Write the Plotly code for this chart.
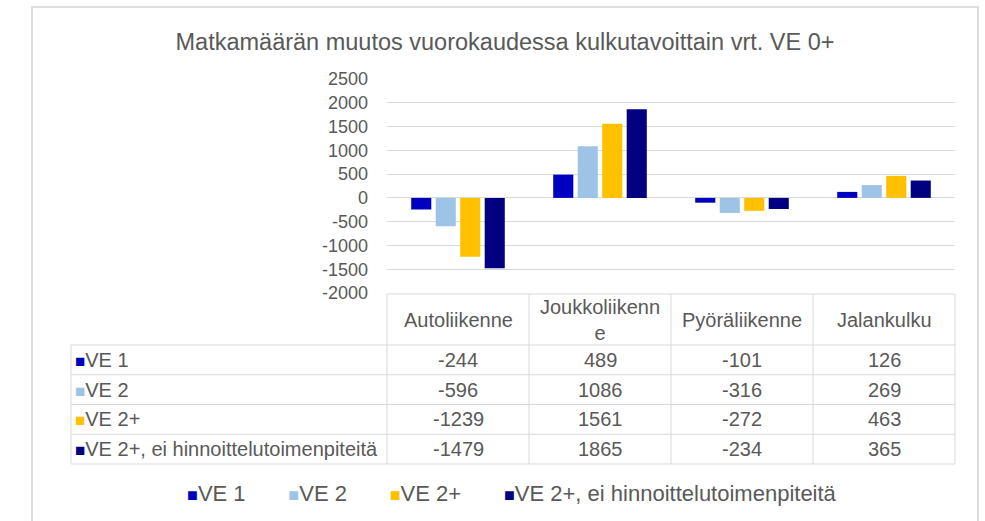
import plotly.graph_objects as go

# ---------------- data ----------------
categories = ["Autoliikenne", "Joukkoliikenne", "Pyöräliikenne", "Jalankulku"]
series_names = ["VE 1", "VE 2", "VE 2+", "VE 2+, ei hinnoittelutoimenpiteitä"]
ve1 = [-244, 489, -101, 126]
ve2 = [-596, 1086, -316, 269]
ve2_plus = [-1239, 1561, -272, 463]
ve2_plus_ei = [-1479, 1865, -234, 365]
series_values = [ve1, ve2, ve2_plus, ve2_plus_ei]
colors = ["#0000C0", "#9DC3E6", "#FFC000", "#000080"]
y_ticks = [2500, 2000, 1500, 1000, 500, 0, -500, -1000, -1500, -2000]
title_text = "Matkamäärän muutos vuorokaudessa kulkutavoittain vrt. VE 0+"

# ---------------- layout constants (pixels) ----------------
W, H = 985, 521
PL, PR, PT, PB = 387, 955, 79, 293          # plot area edges
TEXT = "#595959"
GRID = "#D9D9D9"
FONT = "Arial, Liberation Sans, sans-serif"


def px(X):
    return (X - PL) / (PR - PL)


def py(Y):
    return (PB - Y) / (PB - PT)


fig = go.Figure()
for name, vals, col in zip(series_names, series_values, colors):
    fig.add_trace(go.Bar(x=categories, y=vals, name=name, marker_color=col,
                         marker_line_width=0, showlegend=False))

# ---------------- data table (drawn under the axis) ----------------
label_left = 71
header_top, header_h, row_h = 294, 51, 29.75
row_edges = [header_top + header_h + i * row_h for i in range(len(series_names) + 1)]
shapes = []
line = dict(color=GRID, width=1)
shapes.append(dict(type="line", xref="paper", yref="paper", x0=0, x1=1,
                   y0=py(header_top), y1=py(header_top), line=line))
for ye in row_edges:
    shapes.append(dict(type="line", xref="paper", yref="paper", x0=px(label_left), x1=1,
                       y0=py(ye), y1=py(ye), line=line))
shapes.append(dict(type="line", xref="paper", yref="paper", x0=px(label_left), x1=px(label_left),
                   y0=py(row_edges[0]), y1=py(row_edges[-1]), line=line))
ncat = len(categories)
for i in range(ncat + 1):
    xe = i / ncat
    shapes.append(dict(type="line", xref="paper", yref="paper", x0=xe, x1=xe,
                       y0=py(header_top), y1=py(row_edges[-1]), line=line))
# outer chart border
shapes.append(dict(type="rect", xref="paper", yref="paper", x0=px(32), x1=px(978),
                   y0=py(7), y1=py(560), line=dict(color="#DEDEDE", width=2), layer="below"))

annotations = []
TFS = 20


def wrap(s, n=13):
    return s if len(s) <= n else s[:n] + "<br>" + s[n:]


for cat in categories:
    annotations.append(dict(x=cat, xref="x", y=py(header_top + header_h / 2), yref="paper",
                            text=wrap(cat), showarrow=False, xanchor="center", yanchor="middle",
                            font=dict(size=TFS, color=TEXT, family=FONT)))
for r, (name, vals, col) in enumerate(zip(series_names, series_values, colors)):
    yc = py(row_edges[r] + row_h / 2)
    annotations.append(dict(x=px(label_left + 2), xref="paper", y=yc, yref="paper",
                            text=f"<span style='color:{col};font-size:17px'>■</span>{name}",
                            showarrow=False, xanchor="left", yanchor="middle",
                            font=dict(size=TFS, color=TEXT, family=FONT)))
    for cat, v in zip(categories, vals):
        annotations.append(dict(x=cat, xref="x", y=yc, yref="paper", text=str(v),
                                showarrow=False, xanchor="center", yanchor="middle",
                                font=dict(size=TFS, color=TEXT, family=FONT)))

# legend drawn as text
gap = "&nbsp;" * 7
legend_text = gap.join(f"<span style='color:{c};font-size:18px'>■</span>{n}"
                       for n, c in zip(series_names, colors))
annotations.append(dict(x=px(512), xref="paper", y=py(493), yref="paper", text=legend_text,
                        showarrow=False, xanchor="center", yanchor="middle",
                        font=dict(size=22, color=TEXT, family=FONT)))

fig.update_layout(
    width=W, height=H,
    margin=dict(l=PL, r=W - PR, t=PT, b=H - PB, pad=0),
    paper_bgcolor="white", plot_bgcolor="white",
    title=dict(text=title_text, x=505 / W, xref="container", xanchor="center",
               y=1 - 42 / H, yref="container", yanchor="middle",
               font=dict(size=23.5, color=TEXT, family=FONT)),
    barmode="group", bargap=0.31, bargroupgap=0.18,
    font=dict(family=FONT, color=TEXT),
    xaxis=dict(range=[-0.5, ncat - 0.5], showticklabels=False, showgrid=False,
               zeroline=False, showline=False, ticks=""),
    yaxis=dict(range=[-2000, 2500], tickvals=y_ticks, ticktext=[str(v) for v in y_ticks],
               showgrid=True, gridcolor=GRID,
               gridwidth=1, zeroline=False, showline=False, ticks="",
               ticklabelstandoff=18, tickfont=dict(size=18, color=TEXT, family=FONT)),
    shapes=shapes, annotations=annotations,
    showlegend=False,
)

# remove the page's default 8px body margin so the figure fills the window exactly
fig.write_html("out.html", config={"displayModeBar": False},
               post_script="document.body.style.margin='0px';document.body.style.overflow='hidden';")
